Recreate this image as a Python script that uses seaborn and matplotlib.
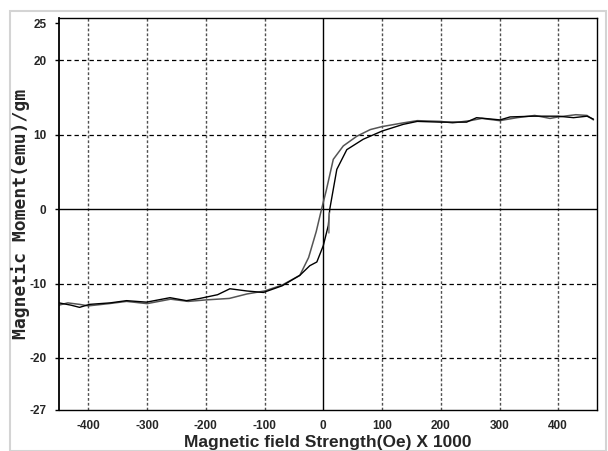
import numpy as np
import pandas as pd
import seaborn as sns
import matplotlib
matplotlib.use("Agg")
import matplotlib.pyplot as plt
from matplotlib.patches import Rectangle

# Descending branch (from +H saturation to -H)
desc_h = [460, 449, 430, 400, 386, 360, 330, 300, 270, 250, 220, 200, 160, 136, 100, 80, 57, 34, 17, 5, -3,
          -12, -25, -40, -70, -100, -130, -160, -200, -230, -260, -300, -335, -365, -400, -415, -435, -450]
desc_m = [12.0, 12.6, 12.7, 12.4, 12.2, 12.6, 12.3, 11.9, 12.2, 11.9, 11.6, 11.8, 11.9, 11.6, 11.1, 10.7, 9.8, 8.5, 6.7, 2.5, 0.0,
          -3.0, -6.5, -8.9, -10.2, -11.0, -11.4, -12.0, -12.2, -12.4, -12.1, -12.7, -12.4, -12.7, -13.0, -12.8, -12.6, -12.9]

# Ascending branch (from -H saturation to +H)
asc_h = [-450, -430, -415, -398, -363, -335, -301, -261, -233, -210, -180, -159, -130, -102, -70, -40, -23, -11, 0, 8.5, 11,
         23, 40, 68, 100, 136, 160, 199, 244, 261, 301, 318, 358, 400, 426, 449, 460]
asc_m = [-12.6, -12.9, -13.2, -12.8, -12.6, -12.3, -12.5, -11.9, -12.3, -12.0, -11.5, -10.7, -11.0, -11.2, -10.3, -8.9, -7.6, -7.1, -4.9, -2.2, 0.0,
         5.35, 8.0, 9.4, 10.5, 11.4, 11.8, 11.7, 11.7, 12.3, 12.0, 12.4, 12.5, 12.5, 12.3, 12.5, 12.1]

# Short initial segment
init_h = [10, 9.5]
init_m = [-0.5, -3.2]

x_ticks = [-400, -300, -200, -100, 0, 100, 200, 300, 400]
y_ticks = [-27, -20, -10, 0, 10, 20, 25]

sns.set_theme(style="white")
plt.rcParams['font.family'] = ['Liberation Sans', 'DejaVu Sans']

fig = plt.figure(figsize=(6.08, 4.51), dpi=100)
ax = fig.add_axes([59/608, 1-410/451, (597-59)/608, (410-18)/451])

# light frame around the whole chart
fig.patches.append(Rectangle((10/608, 0.0), (606-10)/608, 1-11/451, transform=fig.transFigure,
                             fill=False, edgecolor='#d4d4d4', linewidth=1.5))

df_d = pd.DataFrame({'H': desc_h, 'M': desc_m})
df_a = pd.DataFrame({'H': asc_h, 'M': asc_m})
df_i = pd.DataFrame({'H': init_h, 'M': init_m})

ax.set_xlim(-450, 466)
ax.set_ylim(-27, 25.7)

# grid lines
for xv in x_ticks:
    if xv == 0:
        ax.axvline(0, color='black', linewidth=1.0, zorder=1)
    else:
        ax.axvline(xv, color='#505050', linewidth=1.0, dashes=(2, 1.5), zorder=1)
for yv in [-20, -10, 10, 20]:
    ax.axhline(yv, color='black', linewidth=0.9, dashes=(3.5, 2.5), zorder=1)
ax.axhline(0, color='black', linewidth=1.0, zorder=1)

sns.lineplot(data=df_d, x='H', y='M', sort=False, estimator=None, color='#555555', linewidth=1.1, ax=ax)
sns.lineplot(data=df_a, x='H', y='M', sort=False, estimator=None, color='black', linewidth=1.0, ax=ax)
sns.lineplot(data=df_i, x='H', y='M', sort=False, estimator=None, color='#777777', linewidth=1.1, ax=ax)

ax.set_xticks(x_ticks)
ax.set_xticklabels([str(v) for v in x_ticks])
ax.set_yticks(y_ticks)
ax.set_yticklabels([str(v) for v in y_ticks])
ax.tick_params(axis='both', which='both', labelsize=8.5, length=3, width=1, color='black',
               direction='out', bottom=False, left=True)
ax.tick_params(axis='x', pad=4)
ax.tick_params(axis='y', pad=6)
for lbl in ax.get_xticklabels() + ax.get_yticklabels():
    lbl.set_fontweight('bold')

for s in ax.spines.values():
    s.set_color('black')
    s.set_linewidth(1.0)
ax.spines['left'].set_linewidth(1.3)

ax.set_xlabel('')
ax.set_ylabel('')
fig.text(328/608, 1-442/451, 'Magnetic field Strength(Oe) X 1000', fontsize=12.5, fontweight='bold',
         ha='center', va='center')
fig.text(21/608, 1-214/451, 'Magnetic Moment(emu)/gm', fontsize=13, fontweight='bold',
         family=['DejaVu Sans Mono'], rotation=90, ha='center', va='center')

fig.savefig('out.png', dpi=100)
